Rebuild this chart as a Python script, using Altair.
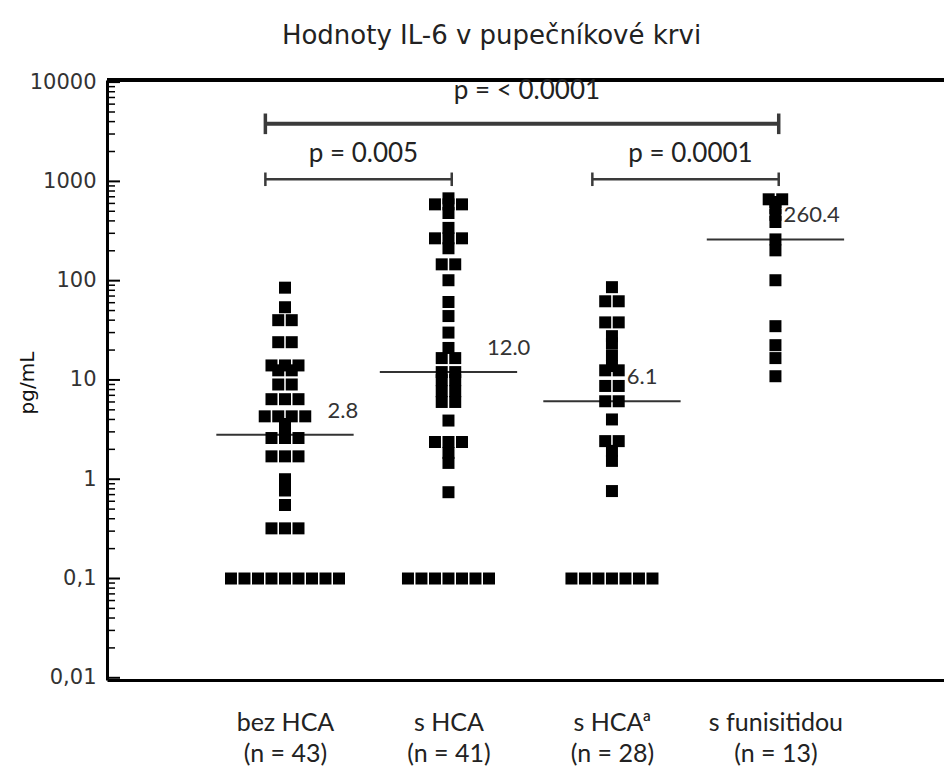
import altair as alt
import pandas as pd
from collections import Counter

# ---------------- data ----------------
title_text = "Hodnoty IL-6 v pupečníkové krvi"
y_title = "pg/mL"
groups = ["bez HCA", "s HCA", "s HCAª", "s funisitidou"]
group_n = ["(n = 43)", "(n = 41)", "(n = 28)", "(n = 13)"]

values_bez = [85, 54, 40, 40, 24, 24, 14, 14, 14, 12.5, 12.5, 9, 9, 6.4, 6.4, 6.4,
              4.3, 4.3, 4.3, 4.3, 3.6, 2.8, 2.6, 2.6, 2.6, 1.7, 1.7, 1.7, 1.0, 0.77,
              0.55, 0.32, 0.32, 0.32, 0.1, 0.1, 0.1, 0.1, 0.1, 0.1, 0.1, 0.1, 0.1]
values_hca = [675, 587, 587, 587, 480, 340, 267, 267, 267, 212, 146, 146, 101, 61, 44,
              30, 21, 16.6, 16.6, 12.0, 12.0, 9.95, 9.95, 7.7, 7.7, 6.0, 6.0, 3.9,
              2.37, 2.37, 2.37, 1.84, 1.46, 0.74, 0.1, 0.1, 0.1, 0.1, 0.1, 0.1, 0.1]
values_hca_a = [86, 62, 62, 38, 38, 27.6, 23.4, 17.7, 13.8, 12.5, 12.5, 8.7, 8.7, 6.1,
                6.1, 4.0, 2.42, 2.42, 1.93, 1.53, 0.76, 0.1, 0.1, 0.1, 0.1, 0.1, 0.1, 0.1]
values_funis = [660, 660, 620, 540, 460, 390, 260.4, 202, 101, 34.8, 22.4, 16.6, 10.9]

medians = [2.8, 12.0, 6.1, 260.4]
median_labels = ["2.8", "12.0", "6.1", "260.4"]

y_ticks = [0.01, 0.1, 1, 10, 100, 1000, 10000]

p_labels = ["p = < 0.0001", "p = 0.005", "p = 0.0001"]
p_from = [1, 1, 3]
p_to = [4, 2, 4]
p_level = [3800, 1050, 1050]
p_text_level = [8200, 1900, 1900]

# ---------------- layout / style ----------------
W, H = 837, 600
step = 0.0826            # horizontal spacing of stacked squares (x units)
med_half = 0.42
med_label_dx = [0.26, 0.235, 0.09, 0.05]
x_dom = [-0.0887, 5.031]
y_dom = [0.0095, 10500]

xs = alt.Scale(domain=x_dom, nice=False, zero=False)
ys = alt.Scale(type="log", domain=y_dom, nice=False)

rows = []
for gi, vals in enumerate([values_bez, values_hca, values_hca_a, values_funis], start=1):
    cnt = Counter(vals)
    seen = {}
    for v in vals:
        k = seen.get(v, 0)
        seen[v] = k + 1
        rows.append({"g": groups[gi - 1], "x": gi + (k - (cnt[v] - 1) / 2) * step, "v": v})
points = pd.DataFrame(rows)

med_df = pd.DataFrame({
    "x1": [i + 1 - med_half for i in range(4)],
    "x2": [i + 1 + med_half for i in range(4)],
    "xl": [i + 1 + med_label_dx[i] for i in range(4)],
    "m": medians,
    "lab": median_labels,
})

br_df = pd.DataFrame({
    "x1": [f - 0.12 for f in p_from],
    "x2": [t + 0.02 for t in p_to],
    "xm": [(f - 0.12 + t + 0.02) / 2 + 0.03 for f, t in zip(p_from, p_to)],
    "y": p_level,
    "yt": p_text_level,
    "lab": p_labels,
    "big": [True, False, False],
})
caps = []
for r in br_df.itertuples():
    f = 1.27 if r.big else 1.17
    for xx in (r.x1, r.x2):
        caps.append({"x": xx, "y1": r.y / f, "y2": r.y * f, "big": r.big})
caps_df = pd.DataFrame(caps)

major_df = pd.DataFrame({"t": y_ticks})
minor_df = pd.DataFrame({"t": [m * 10.0 ** e for e in range(-2, 4) for m in range(2, 10)]})
ytitle_df = pd.DataFrame({"lab": [y_title]})

lab_map = "[" + ",".join("['%s','%s']" % (g, n) for g, n in zip(groups, group_n)) + "]"

x_axis = alt.Axis(values=[1, 2, 3, 4], labelExpr=lab_map + "[datum.value - 1]", title=None)
y_axis = alt.Axis(values=y_ticks, labelExpr="replace(format(datum.value, '~g'), '.', ',')",
                  title=None)


def X(field):
    return alt.X(field, scale=xs, axis=x_axis)


def Y(field):
    return alt.Y(field, scale=ys, axis=y_axis)


pts = alt.Chart(points).mark_square(size=144, color="black", opacity=1, filled=True).encode(
    x=X("x:Q"), y=Y("v:Q"))

top_rule = alt.Chart(major_df).mark_rule(color="black", strokeWidth=3).encode(
    y=alt.value(0), x=alt.value(0), x2=alt.value(W))

major_ticks = alt.Chart(major_df).mark_rule(color="black", strokeWidth=2).encode(
    y=Y("t:Q"), x=alt.value(0), x2=alt.value(13))
minor_ticks = alt.Chart(minor_df).mark_rule(color="black", strokeWidth=1.5).encode(
    y=Y("t:Q"), x=alt.value(0), x2=alt.value(8))

br_lines = alt.Chart(br_df).mark_rule(color="#3a3a3a").encode(
    x=X("x1:Q"), x2="x2:Q", y=Y("y:Q"),
    strokeWidth=alt.condition("datum.big", alt.value(4), alt.value(2.5)))
br_caps = alt.Chart(caps_df).mark_rule(color="#3a3a3a").encode(
    x=X("x:Q"), y=Y("y1:Q"), y2="y2:Q",
    strokeWidth=alt.condition("datum.big", alt.value(3.5), alt.value(2.5)))
br_text = alt.Chart(br_df).mark_text(font="Lato", fontSize=26, color="#222",
                                     baseline="middle", align="center").encode(
    x=X("xm:Q"), y=Y("yt:Q"), text="lab:N")

med_rules = alt.Chart(med_df).mark_rule(color="#333", strokeWidth=2).encode(
    x=X("x1:Q"), x2="x2:Q", y=Y("m:Q"))
med_text = alt.Chart(med_df).mark_text(font="Lato", fontSize=22, color="#333",
                                       baseline="middle", align="left", dy=-24).encode(
    x=X("xl:Q"), y=Y("m:Q"), text="lab:N")

ytitle = alt.Chart(ytitle_df).mark_text(font="DejaVu Sans", fontSize=20, color="#111",
                                        angle=270, align="center", baseline="middle").encode(
    x=alt.value(-79), y=alt.value(303), text="lab:N")

chart = alt.layer(
    top_rule, major_ticks, minor_ticks, br_lines, br_caps, br_text,
    med_rules, pts, med_text, ytitle
).properties(
    width=W, height=H,
    padding={"left": 107, "top": 80, "right": 0, "bottom": 91},
    autosize=alt.AutoSizeParams(type="none"),
    title=alt.TitleParams(text=title_text, font="DejaVu Sans", fontSize=26,
                          fontWeight="normal", color="#222", anchor="middle",
                          dx=-34, dy=5, offset=6, baseline="alphabetic", frame="group"),
).configure_view(
    stroke=None
).configure_axisX(
    grid=False, ticks=False, domainWidth=3, domainColor="black",
    labelFont="Lato", labelFontSize=25, labelColor="#222",
    labelPadding=30, labelLineHeight=31, labelFlush=False,
    labelOverlap=False, labelBound=False,
).configure_axisY(
    grid=False, ticks=False, domainWidth=3, domainColor="black",
    labelFont="DejaVu Sans", labelFontSize=21, labelColor="#333",
    labelPadding=11, labelFlush=False, labelOverlap=False, labelBound=False,
)

chart.save("out.html", embed_options={"renderer": "svg", "actions": False})
